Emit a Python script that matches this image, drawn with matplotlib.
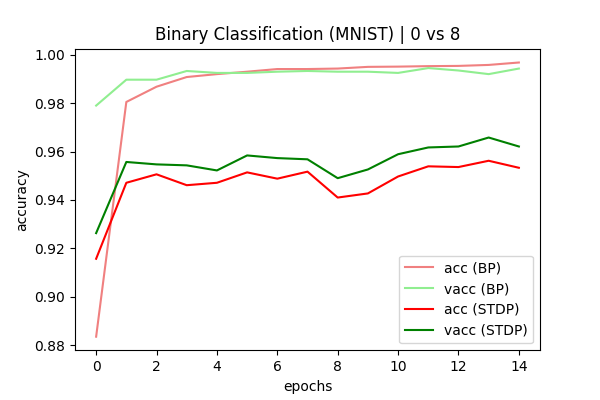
import matplotlib
matplotlib.use("Agg")
import matplotlib.pyplot as plt

epochs = list(range(15))
acc_bp = [0.8835, 0.9805, 0.9868, 0.9908, 0.9920, 0.9930, 0.9941, 0.9941,
          0.9943, 0.9950, 0.9951, 0.9953, 0.9954, 0.9958, 0.9968]
vacc_bp = [0.9790, 0.9897, 0.9897, 0.9933, 0.9925, 0.9925, 0.9930, 0.9933,
           0.9930, 0.9930, 0.9925, 0.9945, 0.9935, 0.9920, 0.9943]
acc_stdp = [0.9157, 0.9471, 0.9506, 0.9461, 0.9471, 0.9514, 0.9488, 0.9517,
            0.9410, 0.9427, 0.9497, 0.9539, 0.9536, 0.9562, 0.9533]
vacc_stdp = [0.9263, 0.9557, 0.9547, 0.9543, 0.9522, 0.9584, 0.9573, 0.9568,
             0.9490, 0.9526, 0.9589, 0.9617, 0.9621, 0.9658, 0.9621]

plt.figure(figsize=(6, 4), dpi=100)
plt.plot(epochs, acc_bp, color="lightcoral", label="acc (BP)")
plt.plot(epochs, vacc_bp, color="lightgreen", label="vacc (BP)")
plt.plot(epochs, acc_stdp, color="red", label="acc (STDP)")
plt.plot(epochs, vacc_stdp, color="green", label="vacc (STDP)")
plt.title("Binary Classification (MNIST) | 0 vs 8")
plt.xlabel("epochs")
plt.ylabel("accuracy")
plt.legend(loc="lower right")
plt.subplots_adjust(left=0.125, right=0.9, top=0.878, bottom=0.124)
plt.savefig("out.png")
